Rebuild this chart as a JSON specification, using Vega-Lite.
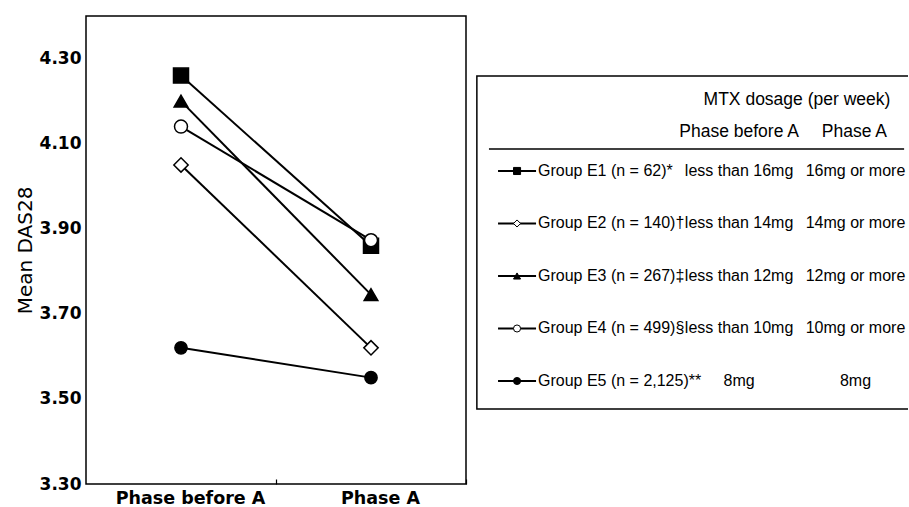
{
  "$schema": "https://vega.github.io/schema/vega-lite/v6.json",
  "background": "white",
  "padding": {"left": 14, "top": 15, "right": 0, "bottom": 0},
  "spacing": 8,
  "config": {"view": {"stroke": null}},
  "datasets": {
    "means": [
      {"group": "E1", "phase": "Phase before A", "das": 4.26},
      {"group": "E1", "phase": "Phase A", "das": 3.86},
      {"group": "E2", "phase": "Phase before A", "das": 4.05},
      {"group": "E2", "phase": "Phase A", "das": 3.62},
      {"group": "E3", "phase": "Phase before A", "das": 4.20},
      {"group": "E3", "phase": "Phase A", "das": 3.745},
      {"group": "E4", "phase": "Phase before A", "das": 4.14},
      {"group": "E4", "phase": "Phase A", "das": 3.873},
      {"group": "E5", "phase": "Phase before A", "das": 3.62},
      {"group": "E5", "phase": "Phase A", "das": 3.55}
    ],
    "groups": [
      {"group": "E1", "row": 0, "label": "Group E1 (n = 62)*", "before": "less than 16mg", "after": "16mg or more"},
      {"group": "E2", "row": 1, "label": "Group E2 (n = 140)†", "before": "less than 14mg", "after": "14mg or more"},
      {"group": "E3", "row": 2, "label": "Group E3 (n = 267)‡", "before": "less than 12mg", "after": "12mg or more"},
      {"group": "E4", "row": 3, "label": "Group E4 (n = 499)§", "before": "less than 10mg", "after": "10mg or more"},
      {"group": "E5", "row": 4, "label": "Group E5 (n = 2,125)**", "before": "8mg", "after": "8mg"}
    ]
  },
  "hconcat": [
    {
      "width": 380,
      "height": 468,
      "view": {"stroke": "black", "strokeWidth": 1.5},
      "data": {"name": "means"},
      "encoding": {
        "x": {
          "field": "phase", "type": "nominal",
          "sort": ["Phase before A", "Phase A"],
          "axis": {
            "title": null, "labelAngle": 0, "domain": false,
            "labelFont": "DejaVu Sans", "labelFontSize": 17.5, "labelFontWeight": "bold", "labelColor": "black",
            "tickSize": -5, "tickOffset": 95, "labelOffset": -86, "tickColor": "black", "tickWidth": 1.2,
            "labelPadding": 10
          }
        },
        "y": {
          "field": "das", "type": "quantitative",
          "scale": {"domain": [3.3, 4.4], "nice": false, "zero": false},
          "axis": {
            "title": "Mean DAS28", "titleFont": "DejaVu Sans", "titleFontSize": 20, "titleFontWeight": "normal", "titleColor": "black",
            "titlePadding": 4,
            "values": [3.3, 3.5, 3.7, 3.9, 4.1, 4.3], "format": ".2f",
            "labelFont": "DejaVu Sans", "labelFontSize": 17, "labelFontWeight": "bold", "labelColor": "black",
            "ticks": false, "grid": false, "domain": false, "labelPadding": 5
          }
        }
      },
      "layer": [
        {
          "mark": {"type": "line", "color": "black", "strokeWidth": 2},
          "encoding": {"detail": {"field": "group"}}
        },
        {
          "mark": {"type": "point", "filled": true, "stroke": "black", "strokeWidth": 1.5, "opacity": 1},
          "encoding": {
            "shape": {"field": "group", "type": "nominal", "scale": {"domain": ["E1", "E2", "E3", "E4", "E5"], "range": ["square", "diamond", "triangle-up", "circle", "circle"]}, "legend": null},
            "fill": {"field": "group", "type": "nominal", "scale": {"domain": ["E1", "E2", "E3", "E4", "E5"], "range": ["black", "white", "black", "white", "black"]}, "legend": null},
            "size": {"field": "group", "type": "nominal", "scale": {"domain": ["E1", "E2", "E3", "E4", "E5"], "range": [225, 150, 210, 190, 190]}, "legend": null}
          }
        }
      ]
    },
    {
      "width": 432,
      "height": 468,
      "view": {"stroke": null},
      "layer": [
        {
          "data": {"values": [{}]},
          "mark": {"type": "rect", "filled": false, "stroke": "black", "strokeWidth": 1.5, "clip": true},
          "encoding": {
            "x": {"datum": 0.2, "type": "quantitative", "scale": {"domain": [0, 100], "nice": false, "zero": false}, "axis": null},
            "x2": {"datum": 120},
            "y": {"datum": -1.81, "type": "quantitative", "scale": {"domain": [-2.952, 5.962], "nice": false, "zero": false, "reverse": true}, "axis": null},
            "y2": {"datum": 4.533}
          }
        },
        {
          "data": {"values": [{}]},
          "mark": {"type": "text", "text": "MTX dosage (per week)", "font": "Liberation Sans", "fontSize": 17.5, "align": "center", "baseline": "middle", "color": "black"},
          "encoding": {
            "x": {"datum": 74.3, "type": "quantitative"},
            "y": {"datum": -1.352, "type": "quantitative"}
          }
        },
        {
          "data": {"values": [{"h": "Phase before A", "c": 60.9}, {"h": "Phase A", "c": 87.6}]},
          "mark": {"type": "text", "font": "Liberation Sans", "fontSize": 17.5, "align": "center", "baseline": "middle", "color": "black"},
          "encoding": {
            "x": {"field": "c", "type": "quantitative"},
            "y": {"datum": -0.743, "type": "quantitative"},
            "text": {"field": "h"}
          }
        },
        {
          "data": {"values": [{}]},
          "mark": {"type": "rule", "color": "black", "strokeWidth": 1.5},
          "encoding": {
            "x": {"datum": 3.0, "type": "quantitative"},
            "x2": {"datum": 99.1},
            "y": {"datum": -0.419, "type": "quantitative"}
          }
        },
        {
          "data": {"name": "groups"},
          "mark": {"type": "rule", "color": "black", "strokeWidth": 2},
          "encoding": {
            "x": {"datum": 5.1, "type": "quantitative"},
            "x2": {"datum": 13.9},
            "y": {"field": "row", "type": "quantitative"}
          }
        },
        {
          "data": {"name": "groups"},
          "mark": {"type": "point", "filled": true, "stroke": "black", "strokeWidth": 1, "opacity": 1, "size": 50},
          "encoding": {
            "x": {"datum": 9.5, "type": "quantitative"},
            "y": {"field": "row", "type": "quantitative"},
            "shape": {"field": "group", "type": "nominal", "scale": {"domain": ["E1", "E2", "E3", "E4", "E5"], "range": ["square", "diamond", "triangle-up", "circle", "circle"]}, "legend": null},
            "fill": {"field": "group", "type": "nominal", "scale": {"domain": ["E1", "E2", "E3", "E4", "E5"], "range": ["black", "white", "black", "white", "black"]}, "legend": null}
          }
        },
        {
          "data": {"name": "groups"},
          "mark": {"type": "text", "font": "Liberation Sans", "fontSize": 16, "align": "left", "baseline": "middle", "color": "black"},
          "encoding": {
            "x": {"datum": 14.35, "type": "quantitative"},
            "y": {"field": "row", "type": "quantitative"},
            "text": {"field": "label"}
          }
        },
        {
          "data": {"name": "groups"},
          "mark": {"type": "text", "font": "Liberation Sans", "fontSize": 16, "align": "center", "baseline": "middle", "color": "black"},
          "encoding": {
            "x": {"datum": 60.9, "type": "quantitative"},
            "y": {"field": "row", "type": "quantitative"},
            "text": {"field": "before"}
          }
        },
        {
          "data": {"name": "groups"},
          "mark": {"type": "text", "font": "Liberation Sans", "fontSize": 16, "align": "center", "baseline": "middle", "color": "black"},
          "encoding": {
            "x": {"datum": 87.85, "type": "quantitative"},
            "y": {"field": "row", "type": "quantitative"},
            "text": {"field": "after"}
          }
        }
      ]
    }
  ]
}
